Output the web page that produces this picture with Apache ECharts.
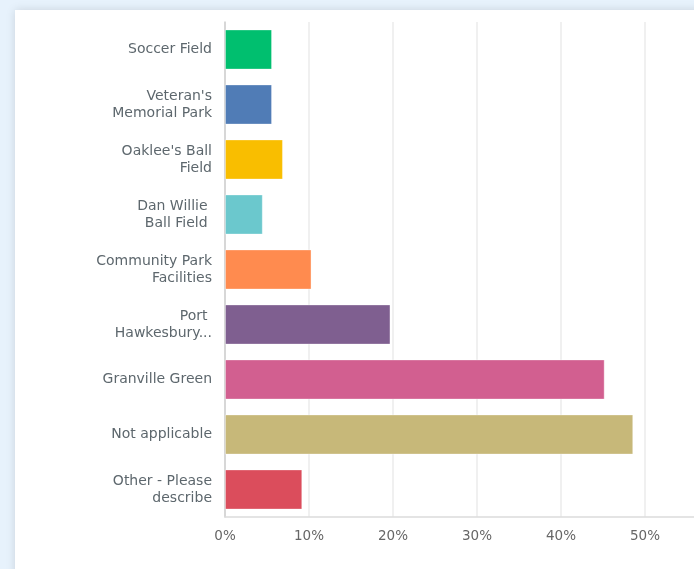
<!DOCTYPE html>
<html>
<head>
<meta charset="utf-8">
<script src="https://cdn.jsdelivr.net/npm/echarts@6/dist/echarts.min.js"></script>
<style>
  html, body { margin: 0; padding: 0; width: 694px; height: 569px; overflow: hidden; background: #e7f2fc; }
  #panel { position: absolute; left: 15px; top: 10px; width: 700px; height: 580px; background: #fff; box-shadow: 0 0 9px rgba(0,0,0,0.13); }
  #chart { position: absolute; left: 0; top: 0; width: 760px; height: 569px; }
</style>
</head>
<body>
<div id="panel"></div>
<div id="chart"></div>
<script>
const categories = [
  "Soccer Field",
  "Veteran's\nMemorial Park",
  "Oaklee's Ball\nField",
  "Dan Willie \nBall Field ",
  "Community Park\nFacilities",
  "Port \nHawkesbury...",
  "Granville Green",
  "Not applicable",
  "Other - Please\ndescribe"
];
const values = [5.6, 5.6, 6.9, 4.5, 10.3, 19.7, 45.2, 48.6, 9.2];
const colors = ["#00bf6f", "#507cb6", "#f9be00", "#6bc8cd", "#ff8b4f", "#7f5f90", "#d25f90", "#c7b879", "#db4d5c"];
const xTicks = [0, 10, 20, 30, 40, 50, 60];

const chart = echarts.init(document.getElementById('chart'), null, { renderer: 'canvas' });
chart.setOption({
  backgroundColor: 'transparent',
  animation: false,
  grid: { left: 225, top: 22, bottom: 52, width: 504, containLabel: false },
  xAxis: {
    type: 'value', min: xTicks[0], max: xTicks[xTicks.length - 1], interval: 10,
    axisLine: { show: true, lineStyle: { color: '#dcdcdc', width: 1.5 } },
    axisTick: { show: false },
    splitLine: { show: true, lineStyle: { color: '#ebebeb', width: 1.5 } },
    axisLabel: { formatter: '{value}%', color: '#666', fontSize: 13.5, fontFamily: 'DejaVu Sans', margin: 12 }
  },
  yAxis: {
    type: 'category', data: categories, inverse: true,
    axisLine: { show: true, lineStyle: { color: '#cfcfcf', width: 1.5 } },
    axisTick: { show: false },
    axisLabel: { color: '#5d676d', fontSize: 14, fontFamily: 'DejaVu Sans', margin: 13, lineHeight: 17, align: 'right' }
  },
  series: [{
    type: 'bar',
    data: values.map((v, i) => ({ value: v, itemStyle: { color: colors[i] } })),
    barCategoryGap: '27%',
    itemStyle: { borderColor: 'rgba(255,255,255,0.35)', borderWidth: 1 }
  }]
});
</script>
</body>
</html>
